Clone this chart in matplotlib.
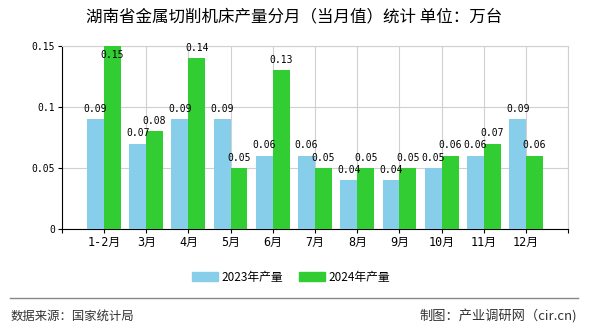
import matplotlib
matplotlib.use("Agg")
import matplotlib.pyplot as plt
from matplotlib.patches import Patch
import numpy as np

plt.rcParams['font.family'] = ['Noto Sans CJK SC', 'DejaVu Sans']

categories = ["1-2月", "3月", "4月", "5月", "6月", "7月", "8月", "9月", "10月", "11月", "12月"]
values_2023 = [0.09, 0.07, 0.09, 0.09, 0.06, 0.06, 0.04, 0.04, 0.05, 0.06, 0.09]
values_2024 = [0.15, 0.08, 0.14, 0.05, 0.13, 0.05, 0.05, 0.05, 0.06, 0.07, 0.06]
series_names = ["2023年产量", "2024年产量"]
yticks = [0, 0.05, 0.1, 0.15]
ytick_labels = ["0", "0.05", "0.1", "0.15"]
title = "湖南省金属切削机床产量分月（当月值）统计 单位：万台"
source = "数据来源：国家统计局"
maker = "制图：产业调研网（cir.cn)"

c1 = "#87CEEB"
c2 = "#32CD32"
mono = ['DejaVu Sans Mono', 'Noto Sans CJK SC']

fig = plt.figure(figsize=(5.9, 3.3), dpi=100)
W, H = 590, 330
ax = fig.add_axes([61.7 / W, 1 - 229 / H, (568.3 - 61.7) / W, (229 - 46) / H])

x = np.arange(1, len(categories) + 1)
bw = 0.4
ax.bar(x - bw / 2, values_2023, width=bw, color=c1, zorder=3)
ax.bar(x + bw / 2, values_2024, width=bw, color=c2, zorder=3)

ax.set_xlim(0, len(categories) + 1)
ax.set_ylim(0, 0.15)
ax.set_xticks(np.arange(0, len(categories) + 2))
ax.set_xticklabels([""] + categories + [""], family=mono, fontsize=8.5)
ax.set_yticks(yticks)
ax.set_yticklabels(ytick_labels, family=mono, fontsize=7)
ax.grid(True, color="#d0d0d0", linewidth=0.8, zorder=0)
for s in ["top", "right"]:
    ax.spines[s].set_color("#d0d0d0")
for s in ["left", "bottom"]:
    ax.spines[s].set_color("black")
ax.tick_params(axis="both", length=3, color="black", pad=2)

def lab(xp, v):
    if v >= 0.145:
        ax.text(xp, v - 0.003, f"{v:g}", ha="center", va="top", family=mono, fontsize=7, zorder=5)
    else:
        ax.text(xp, v + 0.0045, f"{v:g}", ha="center", va="bottom", family=mono, fontsize=7, zorder=5)

for xi, v in zip(x, values_2023):
    lab(xi - bw / 2, v)
for xi, v in zip(x, values_2024):
    lab(xi + bw / 2, v)

fig.text(294 / W, 1 - 17 / H, title, ha="center", va="center", fontsize=11.9)

handles = [Patch(color=c1), Patch(color=c2)]
fig.legend(handles, series_names, loc="center", bbox_to_anchor=(291 / W, 1 - 277 / H), ncol=2,
           frameon=False, fontsize=8.5, handlelength=2.2, handleheight=0.7, columnspacing=1.3,
           handletextpad=0.3)

fig.add_artist(plt.Line2D([10 / W, 578 / W], [1 - 298 / H, 1 - 298 / H], color="#888888", linewidth=1))
fig.text(11 / W, 1 - 316.5 / H, source, ha="left", va="center", fontsize=8.9, color="#333333")
fig.text(577 / W, 1 - 316.5 / H, maker, ha="right", va="center", fontsize=9.5, color="#333333")

fig.savefig("out.png", dpi=100)
